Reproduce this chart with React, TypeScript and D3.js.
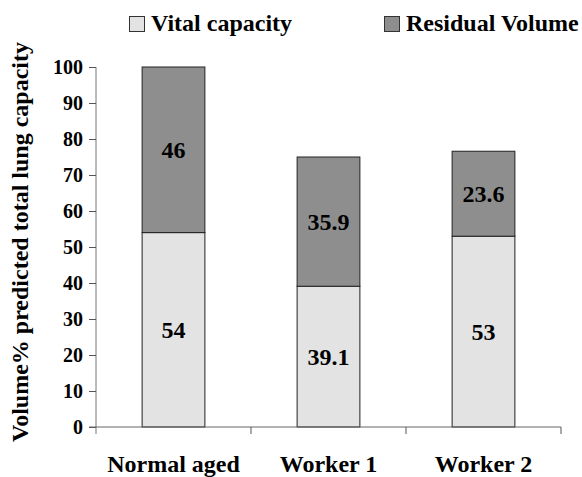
import React, { useEffect, useRef } from 'react';
import * as d3 from 'd3';

const categories = ['Normal aged', 'Worker 1', 'Worker 2'];
const vitalCapacity = [54, 39.1, 53];
const residualVolume = [46, 35.9, 23.6];
const yTicks = [0, 10, 20, 30, 40, 50, 60, 70, 80, 90, 100];
const seriesNames = ['Vital capacity', 'Residual Volume'];
const seriesColors = ['#e3e3e3', '#8e8e8e'];

const App = () => {
  const ref = useRef<SVGSVGElement>(null);

  useEffect(() => {
    const svg = d3.select(ref.current);
    svg.selectAll('*').remove();

    const width = 582;
    const height = 477;
    const margin = { top: 67, right: 21, bottom: 50, left: 96 };
    const innerW = width - margin.left - margin.right;
    const innerH = height - margin.top - margin.bottom;
    const font = '"Liberation Serif", "Times New Roman", serif';

    const x = d3.scaleBand().domain(categories).range([0, innerW]).paddingInner(0).paddingOuter(0);
    const y = d3.scaleLinear().domain([0, 100]).range([innerH, 0]);
    const barW = x.bandwidth() * 0.405;

    const g = svg.append('g').attr('transform', `translate(${margin.left},${margin.top})`);

    const rows = categories.map((c, i) => ({ cat: c, vital: vitalCapacity[i], residual: residualVolume[i] }));
    const stack = d3.stack<any>().keys(['vital', 'residual'])(rows);

    stack.forEach((layer, li) => {
      layer.forEach((d: any) => {
        const cx = (x(d.data.cat) as number) + x.bandwidth() / 2;
        const v = li === 0 ? d.data.vital : d.data.residual;
        g.append('rect')
          .attr('x', cx - barW / 2)
          .attr('y', y(d[1]))
          .attr('width', barW)
          .attr('height', y(d[0]) - y(d[1]))
          .attr('fill', seriesColors[li])
          .attr('stroke', '#222')
          .attr('stroke-width', 1);
        g.append('text')
          .attr('x', cx)
          .attr('y', y((d[0] + d[1]) / 2))
          .attr('dy', '0.35em')
          .attr('text-anchor', 'middle')
          .style('font-family', font)
          .style('font-weight', 'bold')
          .style('font-size', '24px')
          .text(String(v));
      });
    });

    // Y axis
    const yAxis = g.append('g').call(d3.axisLeft(y).tickValues(yTicks).tickSize(7).tickSizeOuter(0));
    yAxis.select('.domain').attr('stroke', '#777').attr('d', `M0,0V${innerH + 7}`);
    yAxis.selectAll('line').attr('stroke', '#555');
    yAxis.selectAll('text')
      .attr('x', -13)
      .style('font-family', font)
      .style('font-weight', 'bold')
      .style('font-size', '20px')
      .attr('fill', '#000');

    // X axis
    const xAxis = g.append('g').attr('transform', `translate(0,${innerH})`);
    xAxis.append('line').attr('x1', -7).attr('x2', innerW).attr('y1', 0).attr('y2', 0).attr('stroke', '#666');
    [...categories.map(c => x(c) as number), innerW].forEach((xv, i) => {
      if (i === 0) return;
      xAxis.append('line').attr('x1', xv).attr('x2', xv).attr('y1', 0).attr('y2', 7).attr('stroke', '#555');
    });
    categories.forEach(c => {
      xAxis.append('text')
        .attr('x', (x(c) as number) + x.bandwidth() / 2)
        .attr('y', 45)
        .attr('text-anchor', 'middle')
        .style('font-family', font)
        .style('font-weight', 'bold')
        .style('font-size', '24px')
        .text(c);
    });

    // Y label
    svg.append('text')
      .attr('transform', 'rotate(-90)')
      .attr('x', -242)
      .attr('y', 28)
      .attr('text-anchor', 'middle')
      .style('font-family', font)
      .style('font-weight', 'bold')
      .style('font-size', '24px')
      .text('Volume% predicted total lung capacity');

    // Legend
    const legendX = [129, 384];
    seriesNames.forEach((name, i) => {
      const lg = svg.append('g').attr('transform', `translate(${legendX[i]},16)`);
      lg.append('rect').attr('x', 0.5).attr('y', 0.5).attr('width', 15).attr('height', 15)
        .attr('fill', seriesColors[i]).attr('stroke', '#333');
      lg.append('text')
        .attr('x', 22)
        .attr('y', 15)
        .style('font-family', font)
        .style('font-weight', 'bold')
        .style('font-size', '24px')
        .text(name);
    });
  }, []);

  return <svg ref={ref} width={582} height={477} style={{ position: 'absolute', left: 0, top: 0 }} />;
};

export default App;
